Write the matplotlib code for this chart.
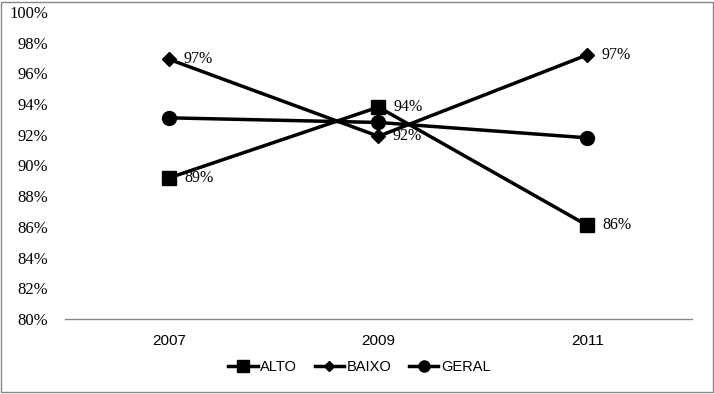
import numpy as np
import matplotlib.pyplot as plt
from matplotlib.patches import Rectangle
from matplotlib.ticker import FuncFormatter

years = ["2007", "2009", "2011"]
alto = [89.2, 93.8, 86.1]
baixo = [96.9, 91.9, 97.2]
geral = [93.1, 92.8, 91.8]
alto_labels = ["89%", "94%", "86%"]
baixo_labels = ["97%", "92%", "97%"]

fig = plt.figure(figsize=(7.14, 3.94), dpi=100)
ax = fig.add_axes([0.091, 0.19, 0.878, 0.78])

x = np.arange(len(years))
ax.plot(x, alto, color="black", lw=2.5, marker="s", ms=10, label="ALTO")
ax.plot(x, baixo, color="black", lw=2.5, marker="D", ms=7, label="BAIXO")
ax.plot(x, geral, color="black", lw=2.5, marker="o", ms=10, label="GERAL")

for xi, v, t in zip(x, alto, alto_labels):
    ax.annotate(t, (xi, v), xytext=(11, 0), textcoords="offset points",
                va="center", ha="left", fontsize=11.5, family="Liberation Serif")
for xi, v, t in zip(x, baixo, baixo_labels):
    ax.annotate(t, (xi, v), xytext=(10, 0), textcoords="offset points",
                va="center", ha="left", fontsize=11.5, family="Liberation Serif")

ax.set_xlim(-0.5, 2.5)
ax.set_ylim(80, 100)
ax.set_yticks(np.arange(80, 101, 2))
ax.yaxis.set_major_formatter(FuncFormatter(lambda v, p: f"{v:.0f}%"))
ax.set_xticks(x)
ax.set_xticklabels(years)
for lab in ax.get_yticklabels():
    lab.set_family("Liberation Serif")
    lab.set_fontsize(12)
for lab in ax.get_xticklabels():
    lab.set_family("Liberation Sans")
    lab.set_fontsize(11)

ax.tick_params(axis="both", length=0)
ax.tick_params(axis="y", pad=12)
ax.tick_params(axis="x", pad=11)
for s in ["top", "right", "left"]:
    ax.spines[s].set_visible(False)
ax.spines["bottom"].set_color("#888888")
ax.spines["bottom"].set_linewidth(1)

ax.legend(loc="upper center", bbox_to_anchor=(0.47, -0.09), ncol=3, frameon=False,
          prop={"family": "Liberation Sans", "size": 10.5}, handlelength=2.0,
          handletextpad=0.2, columnspacing=1.2, markerscale=0.8)

fig.patches.append(Rectangle((0.002, 0.004), 0.996, 0.992, transform=fig.transFigure,
                             fill=False, edgecolor="#888888", lw=1))

plt.savefig("out.png", dpi=100)
